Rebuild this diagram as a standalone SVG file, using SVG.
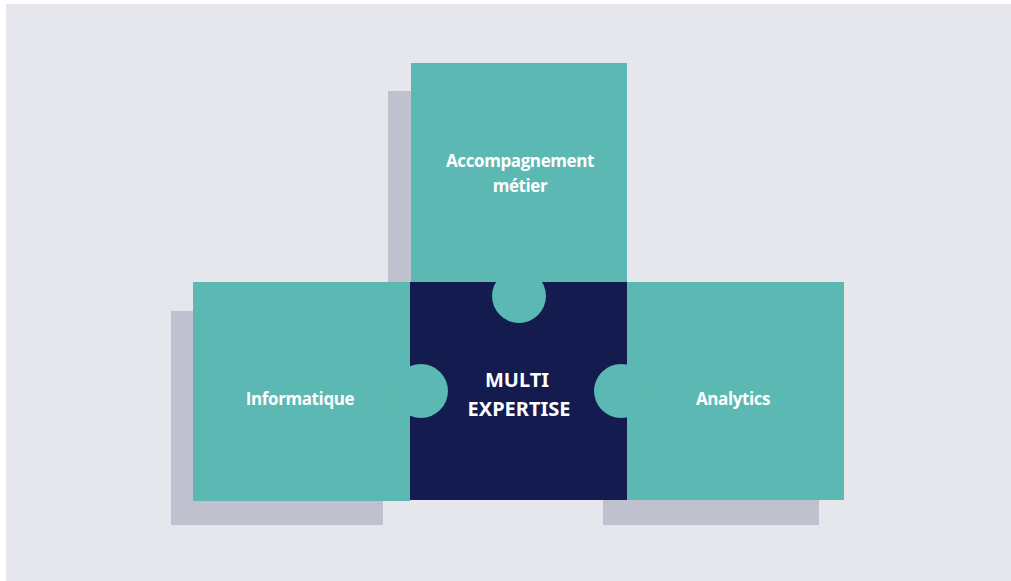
<svg xmlns="http://www.w3.org/2000/svg" width="1011" height="581" viewBox="0 0 1011 581">
<style>
.shadow{fill:#bfc1cf}
.teal{fill:#5cb8b2}
.navy{fill:#131b4f}
.lbl{font-family:"Open Sans","Noto Sans",sans-serif;font-weight:700;fill:#ffffff;text-anchor:middle;font-size:17px;letter-spacing:-0.4px}
.cen{font-family:"Noto Sans","Open Sans",sans-serif;font-weight:700;fill:#ffffff;text-anchor:middle;font-size:20px;letter-spacing:0px}
</style>
<rect x="0" y="0" width="1011" height="581" fill="#ffffff"/>
<rect x="6" y="4" width="1005" height="577" fill="#e6e7ed"/>
<g id="shadows">
<rect class="shadow" x="388" y="91" width="30" height="191"/>
<rect class="shadow" x="171" y="311" width="212" height="214"/>
<rect class="shadow" x="603" y="480" width="216" height="45"/>
</g>
<g id="node-top">
<rect class="teal" x="411" y="63" width="216" height="219"/>
<text class="lbl" x="520" y="167">Accompagnement</text>
<text class="lbl" x="520" y="192">métier</text>
</g>
<g id="node-left">
<rect class="teal" x="193" y="282" width="217" height="219"/>
<text class="lbl" x="300" y="405">Informatique</text>
</g>
<g id="node-right">
<rect class="teal" x="627" y="282" width="217" height="218"/>
<text class="lbl" x="733" y="405">Analytics</text>
</g>
<g id="node-center">
<rect class="navy" x="410" y="282" width="217" height="218"/>
<circle class="teal" cx="519" cy="296" r="27"/>
<circle class="teal" cx="421" cy="391" r="27"/>
<circle class="teal" cx="621" cy="391" r="27"/>
<text class="cen" x="517" y="387">MULTI</text>
<text class="cen" x="519" y="416">EXPERTISE</text>
</g>
<g id="connectors"/>
</svg>
